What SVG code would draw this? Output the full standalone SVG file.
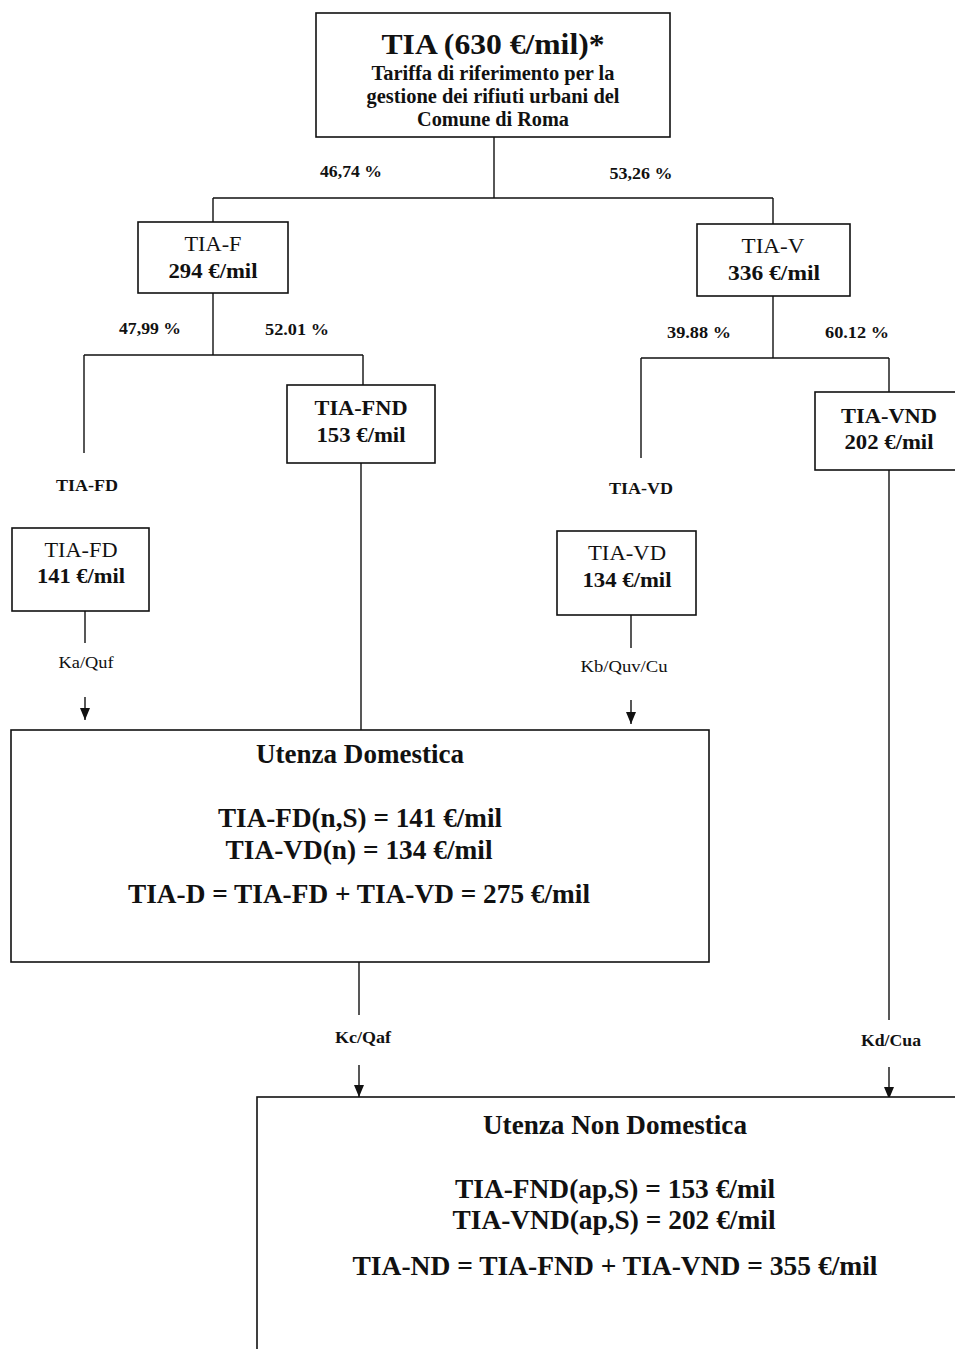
<svg xmlns="http://www.w3.org/2000/svg" width="955" height="1349" viewBox="0 0 955 1349">
<style>
text{font-family:"Liberation Serif","Times New Roman",serif;fill:#111;text-anchor:middle}
.b{font-weight:bold}
.box{fill:#fff;stroke:#111;stroke-width:1.6}
.ln{stroke:#111;stroke-width:1.4;fill:none}
.pct{font-size:16px;font-weight:bold}
.nm{font-size:21px}
.val{font-size:21px;font-weight:bold}
.lbl{font-size:16px}
.big{font-size:28px;font-weight:bold}
.hd{font-size:27px;font-weight:bold}
</style>
<defs>
<marker id="ad" markerWidth="10" markerHeight="12" refX="5" refY="12" orient="0" markerUnits="userSpaceOnUse" viewBox="0 0 10 12">
<path d="M0,0 L10,0 L5,12 Z" fill="#111"/>
</marker>
</defs>
<rect width="955" height="1349" fill="#fff"/>
<g id="connectors">
<path class="ln" d="M494,137 V198 M213,198 H773 M213,198 V222 M773,198 V224"/>
<path class="ln" d="M213,293 V355 M84,355 H363 M84,355 V453 M363,355 V385"/>
<path class="ln" d="M773,296 V358 M641,358 H889 M641,358 V458 M889,358 V392"/>
<path class="ln" d="M85,611 V643"/>
<path class="ln" d="M85,697 V720" marker-end="url(#ad)"/>
<path class="ln" d="M631,615 V648"/>
<path class="ln" d="M631,700 V724" marker-end="url(#ad)"/>
<path class="ln" d="M361,463 V730"/>
<path class="ln" d="M359,962 V1015"/>
<path class="ln" d="M359,1065 V1097" marker-end="url(#ad)"/>
<path class="ln" d="M889,470 V1020"/>
<path class="ln" d="M889,1067 V1099" marker-end="url(#ad)"/>
<g lengthAdjust="spacingAndGlyphs">
<text class="pct" x="351" y="177" textLength="62" lengthAdjust="spacingAndGlyphs">46,74 %</text>
<text class="pct" x="641" y="179" textLength="63" lengthAdjust="spacingAndGlyphs">53,26 %</text>
<text class="pct" x="150" y="334" textLength="62" lengthAdjust="spacingAndGlyphs">47,99 %</text>
<text class="pct" x="297" y="335" textLength="64" lengthAdjust="spacingAndGlyphs">52.01 %</text>
<text class="pct" x="699" y="338" textLength="64" lengthAdjust="spacingAndGlyphs">39.88 %</text>
<text class="pct" x="857" y="338" textLength="64" lengthAdjust="spacingAndGlyphs">60.12 %</text>
<text class="pct" x="87" y="491" textLength="62" lengthAdjust="spacingAndGlyphs">TIA-FD</text>
<text class="pct" x="641" y="494" textLength="64" lengthAdjust="spacingAndGlyphs">TIA-VD</text>
<text class="lbl" x="86" y="668" textLength="55" lengthAdjust="spacingAndGlyphs">Ka/Quf</text>
<text class="lbl" x="624" y="672" textLength="87" lengthAdjust="spacingAndGlyphs">Kb/Quv/Cu</text>
<text class="pct" x="363" y="1043" textLength="56" lengthAdjust="spacingAndGlyphs">Kc/Qaf</text>
<text class="pct" x="891" y="1046" textLength="60" lengthAdjust="spacingAndGlyphs">Kd/Cua</text>
</g>
</g>
<g id="n-tia">
<rect class="box" x="316" y="13" width="354" height="124"/>
<text class="b" x="493" y="54" font-size="30" textLength="223" lengthAdjust="spacingAndGlyphs">TIA (630 €/mil)*</text>
<text class="b" x="493" y="80" font-size="20" textLength="243" lengthAdjust="spacingAndGlyphs">Tariffa di riferimento per la</text>
<text class="b" x="493" y="103" font-size="20" textLength="253" lengthAdjust="spacingAndGlyphs">gestione dei rifiuti urbani del</text>
<text class="b" x="493" y="126" font-size="20" textLength="152" lengthAdjust="spacingAndGlyphs">Comune di Roma</text>
</g>
<g id="n-tiaf">
<rect class="box" x="138" y="222" width="150" height="71"/>
<text class="nm" x="213" y="251" textLength="57" lengthAdjust="spacingAndGlyphs">TIA-F</text>
<text class="val" x="213" y="278" textLength="89" lengthAdjust="spacingAndGlyphs">294 €/mil</text>
</g>
<g id="n-tiav">
<rect class="box" x="697" y="224" width="153" height="72"/>
<text class="nm" x="773" y="253" textLength="63" lengthAdjust="spacingAndGlyphs">TIA-V</text>
<text class="val" x="774" y="280" textLength="92" lengthAdjust="spacingAndGlyphs">336 €/mil</text>
</g>
<g id="n-tiafnd">
<rect class="box" x="287" y="385" width="148" height="78"/>
<text class="val" x="361" y="415" textLength="93" lengthAdjust="spacingAndGlyphs">TIA-FND</text>
<text class="val" x="361" y="442" textLength="89" lengthAdjust="spacingAndGlyphs">153 €/mil</text>
</g>
<g id="n-tiavnd">
<rect class="box" x="815" y="392" width="150" height="78"/>
<text class="val" x="889" y="423" textLength="96" lengthAdjust="spacingAndGlyphs">TIA-VND</text>
<text class="val" x="889" y="449" textLength="89" lengthAdjust="spacingAndGlyphs">202 €/mil</text>
</g>
<g id="n-tiafd">
<rect class="box" x="12" y="528" width="137" height="83"/>
<text class="nm" x="81" y="557" textLength="73" lengthAdjust="spacingAndGlyphs">TIA-FD</text>
<text class="val" x="81" y="583" textLength="88" lengthAdjust="spacingAndGlyphs">141 €/mil</text>
</g>
<g id="n-tiavd">
<rect class="box" x="557" y="531" width="139" height="84"/>
<text class="nm" x="627" y="560" textLength="78" lengthAdjust="spacingAndGlyphs">TIA-VD</text>
<text class="val" x="627" y="587" textLength="89" lengthAdjust="spacingAndGlyphs">134 €/mil</text>
</g>
<g id="n-ud">
<rect class="box" x="11" y="730" width="698" height="232"/>
<text class="hd" x="360" y="763" textLength="208" lengthAdjust="spacingAndGlyphs">Utenza Domestica</text>
<text class="big" x="360" y="827" textLength="284" lengthAdjust="spacingAndGlyphs">TIA-FD(n,S) = 141 €/mil</text>
<text class="big" x="359" y="859" textLength="267" lengthAdjust="spacingAndGlyphs">TIA-VD(n) = 134 €/mil</text>
<text class="big" x="359" y="903" textLength="462" lengthAdjust="spacingAndGlyphs">TIA-D = TIA-FD + TIA-VD = 275 €/mil</text>
</g>
<g id="n-und">
<rect class="box" x="257" y="1097" width="760" height="300"/>
<text class="hd" x="615" y="1134" textLength="264" lengthAdjust="spacingAndGlyphs">Utenza Non Domestica</text>
<text class="big" x="615" y="1198" textLength="320" lengthAdjust="spacingAndGlyphs">TIA-FND(ap,S) = 153 €/mil</text>
<text class="big" x="614" y="1229" textLength="323" lengthAdjust="spacingAndGlyphs">TIA-VND(ap,S) = 202 €/mil</text>
<text class="big" x="615" y="1275" textLength="525" lengthAdjust="spacingAndGlyphs">TIA-ND = TIA-FND + TIA-VND = 355 €/mil</text>
</g>
</svg>
